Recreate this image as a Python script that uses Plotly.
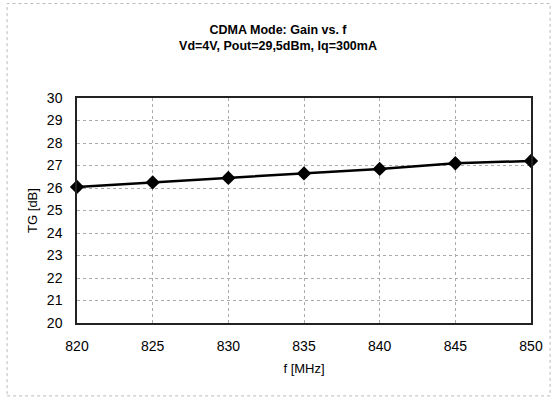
import plotly.graph_objects as go

freq_mhz = [820, 825, 830, 835, 840, 845, 850]
gain_db = [26.05, 26.25, 26.45, 26.65, 26.85, 27.1, 27.2]
y_ticks = list(range(20, 31))
x_ticks = [820, 825, 830, 835, 840, 845, 850]

fig = go.Figure()
fig.add_trace(go.Scatter(
    x=freq_mhz, y=gain_db, mode="lines+markers",
    line=dict(color="black", width=2.5),
    marker=dict(symbol="diamond", size=11, color="black"),
    cliponaxis=False, showlegend=False,
))

font = "Liberation Sans, Arial, sans-serif"
fig.update_layout(
    width=556, height=403,
    margin=dict(l=77, r=25, t=98, b=80),
    paper_bgcolor="white", plot_bgcolor="white",
    font=dict(family=font, color="black", size=13),
    title=dict(
        text="<b>CDMA Mode: Gain vs. f</b><br><b>Vd=4V, Pout=29,5dBm, Iq=300mA</b>",
        x=0.5, xanchor="center", y=0.916, yanchor="middle",
        font=dict(family=font, size=12.5, color="black"),
    ),
    xaxis=dict(
        range=[820, 850], tickvals=x_ticks, ticks="",
        showgrid=True, gridcolor="#aaa", griddash="dot", gridwidth=1,
        showline=True, linecolor="#222", linewidth=1.5, mirror=True,
        zeroline=False, tickfont=dict(size=14), ticklabelstandoff=9,
        title=dict(text="f [MHz]", font=dict(size=13), standoff=11),
    ),
    yaxis=dict(
        range=[20, 30], tickvals=y_ticks, ticks="",
        showgrid=True, gridcolor="#aaa", griddash="dot", gridwidth=1,
        showline=True, linecolor="#222", linewidth=1.5, mirror=True,
        zeroline=False, tickfont=dict(size=14), ticklabelstandoff=10,
        title=dict(text="TG [dB]", font=dict(size=13), standoff=6),
    ),
)
fig.add_shape(type="rect", xref="paper", yref="paper",
              x0=-0.154, x1=1.042, y0=-0.324, y1=1.42,
              line=dict(color="#bbb", width=1, dash="dot"))
fig.write_html("out.html")
